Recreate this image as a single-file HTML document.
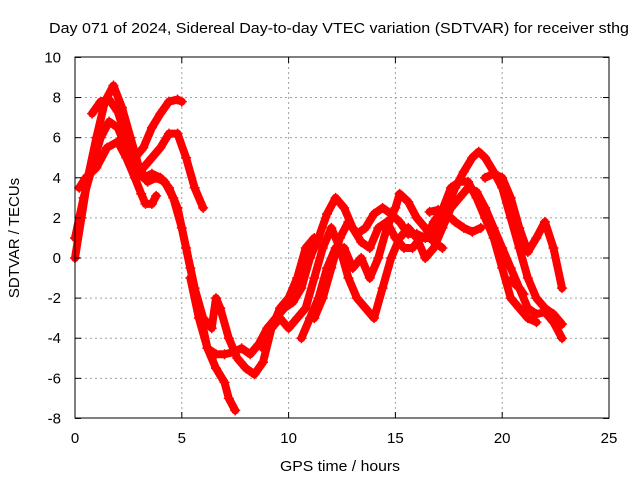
<!DOCTYPE html>
<html><head><meta charset="utf-8"><style>
body{margin:0;background:#fff}
svg{display:block;font-family:"Liberation Sans",sans-serif}
</style></head><body>
<svg id="chart" width="640" height="480" viewBox="0 0 640 480">
<rect width="640" height="480" fill="#fff"/>
<text x="339" y="33" font-size="15" text-anchor="middle" textLength="580" lengthAdjust="spacingAndGlyphs" fill="#000">Day 071 of 2024, Sidereal Day-to-day VTEC variation (SDTVAR) for receiver sthg</text>
<g id="grid"></g>
<g id="series"></g>
<rect x="75" y="57" width="534" height="361" fill="none" stroke="#000" stroke-width="1"/>
<g id="ticks"></g>
<text x="340" y="471" font-size="15" text-anchor="middle" textLength="120" lengthAdjust="spacingAndGlyphs">GPS time / hours</text>
<text transform="translate(19,238) rotate(-90)" font-size="15" text-anchor="middle">SDTVAR / TECUs</text>
</svg>
<script>
const xTicks=[0,5,10,15,20,25];
const yTicks=[-8,-6,-4,-2,0,2,4,6,8,10];
const track1=[[0,0],[0.3,2],[0.6,4],[1,6],[1.4,7.8],[1.8,8.6],[2.2,7.5],[2.6,6],[3,4.5],[3.4,3.8],[3.8,4],[4.2,3.8],[4.6,3],[5,1.5],[5.4,-0.5],[5.8,-2.5],[6.2,-4.5],[6.6,-5.5],[7,-6.2],[7.2,-7],[7.5,-7.6]];
const track2=[[0,1],[0.4,3],[0.8,4.5],[1.2,6],[1.6,6.8],[2,6.5],[2.4,5.5],[2.8,4.5],[3.2,4],[3.6,4.2],[4,4],[4.4,3.5],[4.8,2.5],[5.2,0.5],[5.6,-1.5],[6,-3],[6.4,-3.5],[6.6,-2],[6.8,-2.5],[7.2,-4],[7.6,-5],[8,-5.5],[8.4,-5.8],[8.8,-5.2],[9.2,-3.5],[9.6,-2.5],[10,-2],[10.4,-1],[10.8,0.5],[11.2,1]];
const track3=[[0.2,3.5],[0.5,4],[1,4.5],[1.5,5.5],[2,5.8],[2.4,5],[2.8,4],[3.1,3.2],[3.3,2.7],[3.6,2.7],[3.8,3.1]];
const track4=[[0.8,7.2],[1.2,7.8],[1.6,7.9],[2,7.3],[2.4,6],[2.8,5],[3.2,5.5],[3.6,6.5],[4,7.2],[4.4,7.8],[4.8,7.9],[5,7.8]];
const track5=[[2.8,4],[3.2,4.5],[3.6,5],[4,5.5],[4.4,6.2],[4.8,6.2],[5.2,5],[5.6,3.5],[6,2.5]];
const track6=[[5.4,-1],[5.8,-3],[6.2,-4.5],[6.6,-4.8],[7,-4.8],[7.4,-4.7],[7.8,-4.5],[8.2,-4.8],[8.6,-4.3],[9,-3.5],[9.4,-3],[9.8,-2.5],[10.2,-2.2],[10.6,-1.5],[11,0],[11.4,1],[11.8,2.2],[12.2,3],[12.6,2.5],[13,1.5],[13.4,0.8],[13.8,0.5],[14.2,1.5],[14.6,1.8],[15,1],[15.4,0.5],[15.8,0.5],[16.2,1],[16.6,1],[17,1.5],[17.4,2.5],[17.8,3.5],[18.2,4.3],[18.6,5],[18.9,5.3],[19.2,5],[19.6,4.3],[20,3.5],[20.4,2],[20.8,0.5],[21.2,-1],[21.6,-2],[22,-2.5],[22.4,-2.8],[22.8,-3.3]];
const track7=[[8.8,-4.5],[9.2,-3.5],[9.6,-3],[10,-3.5],[10.4,-3],[10.8,-2.5],[11.2,-1],[11.6,0.5],[12,1.5],[12.4,0.5],[12.8,-1],[13.2,-2],[13.6,-2.5],[14,-3],[14.4,-1.5],[14.8,0],[15.2,1],[15.6,1.5],[16,1],[16.4,0],[16.8,0.5],[17.2,1.5],[17.6,2.5],[18,3],[18.4,3.5],[18.8,3.3],[19.2,2.5],[19.6,1.5],[20,0.5],[20.4,-0.5],[20.8,-1.5],[21.2,-2.5],[21.6,-2.8],[22,-2.7],[22.4,-3.2],[22.8,-4]];
const track8=[[10.6,-4],[11,-3],[11.4,-2],[11.8,-0.5],[12.2,0.5],[12.6,0.5],[13,-0.5],[13.4,0],[13.8,-1],[14.2,0],[14.6,1.5],[15,2.5],[15.2,3.2],[15.6,2.8],[16,2],[16.4,1.5],[16.8,0.8],[17.2,0.5]];
const track9=[[11.2,-3],[11.6,-2],[12,-0.5],[12.4,1],[12.8,1.8],[13.2,1.2],[13.6,1.5],[14,2.2],[14.4,2.5],[14.8,2.2],[15.2,1.8],[15.6,1.2],[16,1.2],[16.4,1],[16.8,1.8],[17.2,2.4],[17.6,3.5],[18,3.8],[18.4,3.8],[18.8,3],[19.2,2],[19.6,1],[20,-0.5],[20.4,-2],[20.8,-2.5],[21.2,-3],[21.6,-3.2]];
const track10=[[19.2,4],[19.6,4.2],[20,4],[20.4,3],[20.8,1.5],[21.2,0.3],[21.6,1],[22,1.8],[22.4,0.5],[22.8,-1.5]];
const track11=[[16.6,2.3],[17,2.4],[17.4,2.2],[17.8,1.8],[18.2,1.5],[18.6,1.3],[19,1.5]];
const track12=[[20.4,-1.1],[20.8,-1.5],[21,-1.8]];
const tracks=[track1,track2,track3,track4,track5,track6,track7,track8,track9,track10,track11,track12];
const NS='http://www.w3.org/2000/svg';
const X=h=>75+h*(534/25);
const Y=v=>258-v*(361/18);
const grid=document.getElementById('grid'),ticks=document.getElementById('ticks'),ser=document.getElementById('series');
function mk(tag,attrs,parent){const e=document.createElementNS(NS,tag);for(const k in attrs)e.setAttribute(k,attrs[k]);parent.appendChild(e);return e;}
xTicks.forEach(t=>{
  if(t>0&&t<25){const g=mk('line',{x1:X(t),x2:X(t),y1:57,y2:418,stroke:'#a0a0a0','stroke-dasharray':'2,3'},grid);
  
  }
  const l=mk('text',{x:X(t),y:443,'font-size':15,'text-anchor':'middle'},ticks);l.textContent=t;
  
  
  mk('line',{x1:X(t),x2:X(t),y1:418,y2:412,stroke:'#000'},ticks);
  mk('line',{x1:X(t),x2:X(t),y1:57,y2:63,stroke:'#000'},ticks);
});
yTicks.forEach(t=>{
  if(t>-8&&t<10){const g=mk('line',{x1:75,x2:609,y1:Y(t),y2:Y(t),stroke:'#a0a0a0','stroke-dasharray':'2,3'},grid);
  
  }
  const l=mk('text',{x:61,y:Y(t)+5,'font-size':15,'text-anchor':'end'},ticks);l.textContent=t;
  
  
  mk('line',{x1:75,x2:81,y1:Y(t),y2:Y(t),stroke:'#000'},ticks);
  mk('line',{x1:609,x2:603,y1:Y(t),y2:Y(t),stroke:'#000'},ticks);
});
tracks.forEach((tr,i)=>{
  const p=mk('polyline',{points:tr.map(d=>X(d[0])+','+Y(d[1])).join(' '),fill:'none',stroke:'#ff0000','stroke-width':8,'stroke-linejoin':'round','stroke-linecap':'round'},ser);
  
  
  tr.forEach(d=>{
    const m=mk('path',{d:`M${X(d[0])-5},${Y(d[1])}h10M${X(d[0])},${Y(d[1])-5}v10`,stroke:'#ff0000','stroke-width':1.5},ser);
    
    
  });
});
</script>
</body></html>
